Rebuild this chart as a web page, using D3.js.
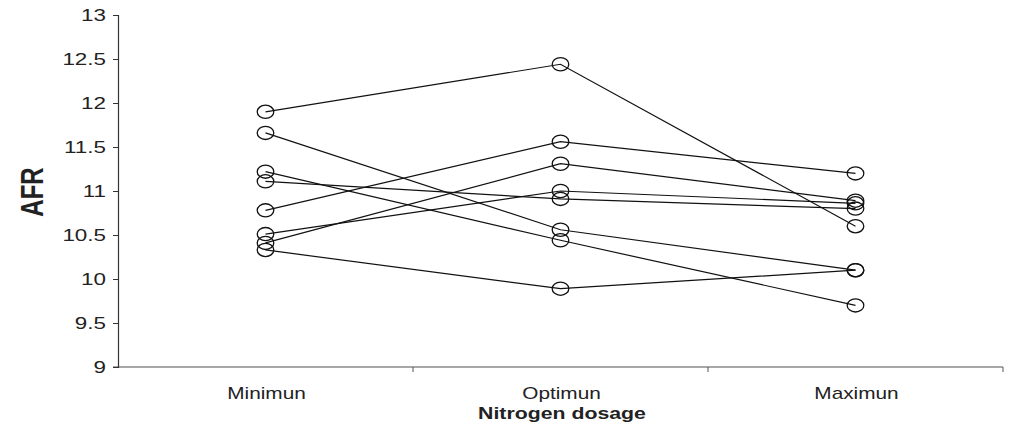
<!DOCTYPE html>
<html>
<head>
<meta charset="utf-8">
<script src="https://cdn.jsdelivr.net/npm/d3@7"></script>
<style>
  html, body { margin: 0; padding: 0; background: #fff; }
  svg { display: block; }
  text { font-family: "Liberation Sans", Arial, sans-serif; fill: #222; }
</style>
</head>
<body>
<svg id="chart" width="1012" height="430"></svg>
<script>
// ---- data ----
const categories = ["Minimun", "Optimun", "Maximun"];
const s1 = [11.90, 12.44, 10.60];
const s2 = [11.66, 10.56, 10.10];
const s3 = [11.22, 10.44, 9.70];
const s4 = [11.11, 10.91, 10.80];
const s5 = [10.78, 11.56, 11.20];
const s6 = [10.51, 11.00, 10.86];
const s7 = [10.41, 11.31, 10.89];
const s8 = [10.33, 9.89, 10.10];
const seriesList = [s1, s2, s3, s4, s5, s6, s7, s8];
const yTicks = [9, 9.5, 10, 10.5, 11, 11.5, 12, 12.5, 13];
const yTitle = "AFR";
const xTitle = "Nitrogen dosage";

// ---- layout ----
const svg = d3.select("#chart");
const mLeft = 118, mRight = 1003, mTop = 15, mBottom = 367;
const SX = 1.3; // horizontal stretch of original rendering

const x = d3.scaleBand().domain(categories).range([mLeft, mRight]).padding(0);
const y = d3.scaleLinear().domain([9, 13]).range([mBottom, mTop]);

// x axis line (gray)
const xAxis = d3.axisBottom(x).tickSize(0).tickFormat("");
const gx = svg.append("g").attr("transform", `translate(0,${mBottom})`).call(xAxis);
gx.select(".domain").remove();
gx.append("line").attr("x1", mLeft - 5).attr("x2", mRight).attr("y1", 0).attr("y2", 0)
  .attr("stroke", "#8a8a8a").attr("stroke-width", 1.3);
const boundaries = categories.map(c => x(c) + x.bandwidth());
gx.selectAll("line.bt").data(boundaries).enter().append("line")
  .attr("class", "bt")
  .attr("x1", d => d).attr("x2", d => d).attr("y1", 0).attr("y2", 5)
  .attr("stroke", "#555").attr("stroke-width", 1);

// category labels
svg.selectAll("text.cat").data(categories).enter().append("text")
  .attr("class", "cat")
  .attr("text-anchor", "middle")
  .attr("font-size", 16)
  .attr("transform", d => `translate(${x(d) + x.bandwidth() / 2 + 1},399) scale(${SX},1)`)
  .text(d => d);

// y axis
const yAxis = d3.axisLeft(y).tickValues(yTicks).tickSize(5).tickFormat("");
const gy = svg.append("g").attr("transform", `translate(${mLeft},0)`).call(yAxis);
gy.select(".domain").attr("stroke", "#333").attr("stroke-width", 1.2);
gy.selectAll(".tick line").attr("stroke", "#333");
gy.selectAll(".tick text").remove();
svg.selectAll("text.yt").data(yTicks).enter().append("text")
  .attr("class", "yt")
  .attr("text-anchor", "end")
  .attr("font-size", 16)
  .attr("transform", d => `translate(106,${y(d) + 5.5}) scale(1.4,1)`)
  .text(d => d);

// titles
svg.append("text")
  .attr("text-anchor", "middle")
  .attr("font-size", 24).attr("font-weight", "bold")
  .attr("transform", `translate(43,192) scale(${SX},1) rotate(-90)`)
  .text(yTitle);
svg.append("text")
  .attr("text-anchor", "middle")
  .attr("font-size", 16).attr("font-weight", "bold")
  .attr("transform", `translate(562,419) scale(1.33,1)`)
  .text(xTitle);

// lines
const line = d3.line()
  .x((d, i) => x(categories[i]) + x.bandwidth() / 2)
  .y(d => y(d));
svg.append("g").selectAll("path").data(seriesList).enter().append("path")
  .attr("d", line)
  .attr("fill", "none")
  .attr("stroke", "#111")
  .attr("stroke-width", 1.2);

// markers
const g = svg.append("g");
seriesList.forEach(s => {
  g.selectAll(null).data(s).enter().append("ellipse")
    .attr("cx", (d, i) => x(categories[i]) + x.bandwidth() / 2)
    .attr("cy", d => y(d))
    .attr("rx", 8.3).attr("ry", 6.6)
    .attr("fill", "none")
    .attr("stroke", "#111")
    .attr("stroke-width", 1.3);
});
</script>
</body>
</html>
